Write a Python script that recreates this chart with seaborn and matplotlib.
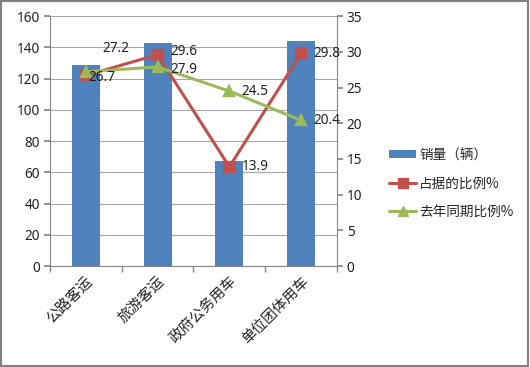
import matplotlib
matplotlib.use("Agg")
import matplotlib.pyplot as plt
import seaborn as sns
import pandas as pd
from matplotlib.patches import Rectangle
from matplotlib.lines import Line2D

categories = ["公路客运", "旅游客运", "政府公务用车", "单位团体用车"]
sales = [129, 143, 67, 144]
share_pct = [26.7, 29.6, 13.9, 29.8]
last_year_pct = [27.2, 27.9, 24.5, 20.4]
left_ticks = [0, 20, 40, 60, 80, 100, 120, 140, 160]
right_ticks = [0, 5, 10, 15, 20, 25, 30, 35]
series_names = ["销量（辆）", "占据的比例%", "去年同期比例%"]

sns.set_theme(style="white")
plt.rcParams['font.family'] = ['Noto Sans CJK SC', 'DejaVu Sans']

BLUE = "#4F81BD"
RED = "#C0504D"
GREEN = "#9BBB59"
GRID = "#A6A6A6"
AXIS = "#868686"
NUMFONT = ['Noto Sans', 'DejaVu Sans']
NUMSIZE = 9.8

fig = plt.figure(figsize=(5.30, 3.67), dpi=100)
ax = fig.add_axes([0.094, 0.275, 0.542, 0.681])

df = pd.DataFrame({"cat": categories, "sales": sales,
                   "share": share_pct, "last": last_year_pct})

sns.barplot(data=df, x="cat", y="sales", ax=ax, color=BLUE, width=0.39,
            saturation=1, edgecolor="none")
ax.set_ylim(0, 160)
ax.set_yticks(left_ticks)
ax.set_xlim(-0.5, len(categories) - 0.5)
ax.yaxis.grid(True, color=GRID, linewidth=0.8)
ax.set_axisbelow(True)
ax.set_xlabel("")
ax.set_ylabel("")

ax2 = ax.twinx()
sns.pointplot(data=df, x="cat", y="share", ax=ax2, color=RED, markers="s",
              markersize=7, linewidth=2.2)
sns.pointplot(data=df, x="cat", y="last", ax=ax2, color=GREEN, markers="^",
              markersize=7, linewidth=2.2)
ax2.set_ylim(0, 35)
ax2.set_yticks(right_ticks)
ax2.set_xlim(-0.5, len(categories) - 0.5)
ax2.set_ylabel("")
ax2.set_xlabel("")
ax2.grid(False)

# data labels
share_offsets = [(2, -1.5), (9, 2), (9, 0), (9, 0)]
last_offsets = [(12, 17), (9, -2), (9, 0), (9, 0)]
for i, v in enumerate(share_pct):
    ax2.annotate(f"{v}", (i, v), xytext=share_offsets[i],
                 textcoords="offset points",
                 fontsize=NUMSIZE, va="center", ha="left", color="#222222",
                 family=NUMFONT)
for i, v in enumerate(last_year_pct):
    ax2.annotate(f"{v}", (i, v), xytext=last_offsets[i],
                 textcoords="offset points",
                 fontsize=NUMSIZE, va="center", ha="left", color="#222222",
                 family=NUMFONT)

# axes styling
for a in (ax, ax2):
    a.spines["top"].set_visible(False)
    for s in ["left", "right", "bottom"]:
        a.spines[s].set_color(AXIS)
        a.spines[s].set_linewidth(0.8)
ax.spines["right"].set_visible(False)
ax2.spines["left"].set_visible(False)
ax2.spines["bottom"].set_visible(False)

ax.tick_params(axis="y", which="both", left=True, length=4, color=AXIS,
               labelsize=NUMSIZE, labelcolor="#222222", pad=3)
ax2.tick_params(axis="y", which="both", right=True, length=4, color=AXIS,
                labelsize=NUMSIZE, labelcolor="#222222", pad=3)
for lab in ax.get_yticklabels() + ax2.get_yticklabels():
    lab.set_family(NUMFONT)

# x ticks at category boundaries, labels at centers
ax.set_xticks(range(len(categories)))
ax.set_xticklabels(categories, rotation=45, ha="right",
                   rotation_mode="anchor", fontsize=10.5, color="#222222")
ax.tick_params(axis="x", which="major", bottom=False, length=0, pad=6)
ax.set_xticks([i - 0.5 for i in range(len(categories) + 1)], minor=True)
ax.tick_params(axis="x", which="minor", bottom=True, length=4, color=AXIS)
ax2.tick_params(axis="x", bottom=False, labelbottom=False)

# legend
handles = [
    Rectangle((0, 0), 1, 1, facecolor=BLUE, edgecolor="none"),
    Line2D([0], [0], color=RED, marker="s", markersize=7, linewidth=2.2),
    Line2D([0], [0], color=GREEN, marker="^", markersize=7, linewidth=2.2),
]
fig.legend(handles, series_names, loc="center left",
           bbox_to_anchor=(0.724, 0.5), frameon=False, fontsize=9.8,
           handlelength=2.0, handleheight=0.5, labelspacing=1.05,
           handletextpad=0.2, borderaxespad=0)

# outer border
fig.patches.append(Rectangle((0.002, 0.003), 0.995, 0.994,
                             transform=fig.transFigure, fill=False,
                             edgecolor="#808080", linewidth=1.5))

fig.savefig("out.png", dpi=100)
